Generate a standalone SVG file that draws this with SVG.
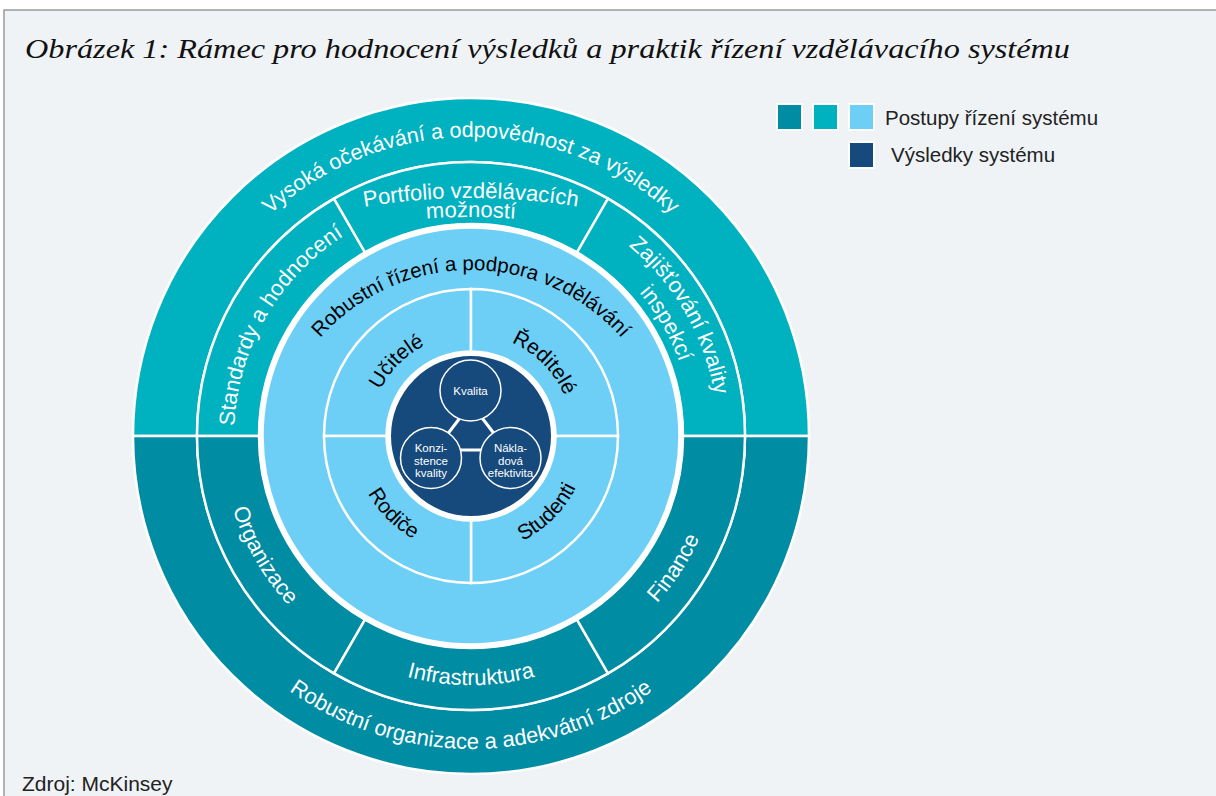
<svg xmlns="http://www.w3.org/2000/svg" width="1216" height="796" viewBox="0 0 1216 796">
<style>
.sans{font-family:'Liberation Sans',Arial,Helvetica,sans-serif}
.w{fill:#ffffff}
.k{fill:#000000}
.t1{fill:#00b1bf}
.t2{fill:#008ca3}
.lb{fill:#6dcff6}
.nv{fill:#174a7c}
.seg{stroke:#ffffff;stroke-width:2.5}
.ring{font-size:22px}
.outer{font-size:21.6px}
.inner{font-size:21px}
.small{font-size:11.5px}
</style>
<defs>
<path id="pOutTop" d="M 172,436 A 299 299 0 0 1 770,436"/>
<path id="pOutBot" d="M 158,436 A 313 313 0 0 0 784,436"/>
<path id="pStd" d="M 265.8,554.5 A 237 237 0 0 1 471,199"/>
<path id="pPort1" d="M 231,243.9 A 650 650 0 0 1 711,243.9"/>
<path id="pPort2" d="M 331,233.6 A 600 600 0 0 1 611,233.6"/>
<path id="pZaj1" d="M 428.1,192.8 A 247 247 0 0 1 660.2,594.8"/>
<path id="pZaj2" d="M 432.6,218.4 A 221 221 0 0 1 640.3,578.1"/>
<path id="pOrg" d="M 280.3,275.9 A 249 249 0 0 0 514.2,681.2"/>
<path id="pInf" d="M 237,521.2 A 249 249 0 0 0 705,521.2"/>
<path id="pFin" d="M 414.8,679.6 A 250 250 0 0 0 670.7,285.5"/>
<path id="pRob" d="M 270,471 A 201 201 0 0 1 672,471"/>
<path id="pUc" d="M 378.6,479.1 A 102 102 0 0 1 514.1,343.6"/>
<path id="pRe" d="M 427.9,343.6 A 102 102 0 0 1 563.4,479.1"/>
<path id="pRo" d="M 364.1,386.1 A 118 118 0 0 0 520.9,542.9"/>
<path id="pSt" d="M 421.6,542 A 117 117 0 0 0 577,386.6"/>
</defs>

<rect x="0" y="0" width="1216" height="796" fill="#ffffff"/>
<rect x="4" y="10" width="1212" height="786" fill="#eff3f6"/>
<path d="M 4,796 L 4,10 L 1216,10" fill="none" stroke="#9a9a9a" stroke-width="1.5"/>

<text x="25" y="58" font-family="'Liberation Serif','Times New Roman',serif" font-style="italic" font-size="28" fill="#111111" textLength="1045" lengthAdjust="spacingAndGlyphs">Obrázek 1: Rámec pro hodnocení výsledků a praktik řízení vzdělávacího systému</text>

<g id="legend">
<rect x="777" y="104" width="25" height="26" fill="#008ca3" stroke="#ffffff" stroke-width="2"/>
<rect x="813" y="104" width="25" height="26" fill="#00b1bf" stroke="#ffffff" stroke-width="2"/>
<rect x="849" y="104" width="25" height="26" fill="#6dcff6" stroke="#ffffff" stroke-width="2"/>
<rect x="849" y="142" width="25" height="26" fill="#174a7c" stroke="#ffffff" stroke-width="2"/>
<text class="sans" x="885" y="125" font-size="20.5" fill="#222222">Postupy řízení systému</text>
<text class="sans" x="891" y="162" font-size="20.5" fill="#222222">Výsledky systému</text>
</g>

<g id="outer-top">
<path class="t1 seg" d="M 133,436 A 338 338 0 0 1 809,436 L 745,436 A 274 274 0 0 0 197,436 Z"/>
<text class="sans w outer"><textPath href="#pOutTop" startOffset="50%" text-anchor="middle">Vysoká očekávání a odpovědnost za výsledky</textPath></text>
</g>
<g id="outer-bottom">
<path class="t2 seg" d="M 133,436 A 338 338 0 0 0 809,436 L 745,436 A 274 274 0 0 1 197,436 Z"/>
<text class="sans w ring"><textPath href="#pOutBot" startOffset="50%" text-anchor="middle">Robustní organizace a adekvátní zdroje</textPath></text>
</g>

<g id="standardy">
<path class="t1 seg" d="M 197,436 A 274 274 0 0 1 334,198.7 L 365,252.4 A 212 212 0 0 0 259,436 Z"/>
<text class="sans w ring"><textPath href="#pStd" startOffset="50%" text-anchor="middle">Standardy a hodnocení</textPath></text>
</g>
<g id="portfolio">
<path class="t1 seg" d="M 334,198.7 A 274 274 0 0 1 608,198.7 L 577,252.4 A 212 212 0 0 0 365,252.4 Z"/>
<text class="sans w ring"><textPath href="#pPort1" startOffset="50%" text-anchor="middle">Portfolio vzdělávacích</textPath></text>
<text class="sans w ring"><textPath href="#pPort2" startOffset="50%" text-anchor="middle">možností</textPath></text>
</g>
<g id="zajistovani">
<path class="t1 seg" d="M 608,198.7 A 274 274 0 0 1 745,436 L 683,436 A 212 212 0 0 0 577,252.4 Z"/>
<text class="sans w ring"><textPath href="#pZaj1" startOffset="50%" text-anchor="middle">Zajišťování kvality</textPath></text>
<text class="sans w ring"><textPath href="#pZaj2" startOffset="50%" text-anchor="middle">inspekcí</textPath></text>
</g>
<g id="organizace">
<path class="t2 seg" d="M 197,436 A 274 274 0 0 0 334,673.3 L 365,619.6 A 212 212 0 0 1 259,436 Z"/>
<text class="sans w ring"><textPath href="#pOrg" startOffset="50%" text-anchor="middle">Organizace</textPath></text>
</g>
<g id="infrastruktura">
<path class="t2 seg" d="M 334,673.3 A 274 274 0 0 0 608,673.3 L 577,619.6 A 212 212 0 0 1 365,619.6 Z"/>
<text class="sans w ring"><textPath href="#pInf" startOffset="50%" text-anchor="middle">Infrastruktura</textPath></text>
</g>
<g id="finance">
<path class="t2 seg" d="M 608,673.3 A 274 274 0 0 0 745,436 L 683,436 A 212 212 0 0 1 577,619.6 Z"/>
<text class="sans w ring"><textPath href="#pFin" startOffset="50%" text-anchor="middle">Finance</textPath></text>
</g>

<g id="robustni-rizeni">
<circle cx="471" cy="436" r="210" class="lb" stroke="#ffffff" stroke-width="5.5"/>
<text class="sans k" font-size="20.5"><textPath href="#pRob" startOffset="50%" text-anchor="middle">Robustní řízení a podpora vzdělávání</textPath></text>
</g>

<g id="ucitele">
<path class="lb seg" d="M 324,436 A 147 147 0 0 1 471,289 L 471,351.5 A 84.5 84.5 0 0 0 386.5,436 Z"/>
<text class="sans k inner"><textPath href="#pUc" startOffset="50%" text-anchor="middle">Učitelé</textPath></text>
</g>
<g id="reditele">
<path class="lb seg" d="M 471,289 A 147 147 0 0 1 618,436 L 555.5,436 A 84.5 84.5 0 0 0 471,351.5 Z"/>
<text class="sans k inner"><textPath href="#pRe" startOffset="50%" text-anchor="middle">Ředitelé</textPath></text>
</g>
<g id="studenti">
<path class="lb seg" d="M 618,436 A 147 147 0 0 1 471,583 L 471,520.5 A 84.5 84.5 0 0 0 555.5,436 Z"/>
<text class="sans k inner"><textPath href="#pSt" startOffset="50%" text-anchor="middle">Studenti</textPath></text>
</g>
<g id="rodice">
<path class="lb seg" d="M 471,583 A 147 147 0 0 1 324,436 L 386.5,436 A 84.5 84.5 0 0 0 471,520.5 Z"/>
<text class="sans k inner"><textPath href="#pRo" startOffset="50%" text-anchor="middle">Rodiče</textPath></text>
</g>

<g id="vysledky">
<circle cx="471" cy="436" r="82.25" class="nv" stroke="#ffffff" stroke-width="4.5"/>
</g>

<g id="connectors" stroke="#ffffff" stroke-width="3" fill="none">
<line x1="440" y1="444" x2="466" y2="410"/>
<line x1="476" y1="410" x2="502" y2="444"/>
<line x1="440" y1="450" x2="501" y2="450"/>
</g>

<g id="kvalita">
<circle cx="470.5" cy="390.5" r="30.5" class="nv" stroke="#ffffff" stroke-width="1.5"/>
<text class="sans w small" x="470.5" y="394.5" text-anchor="middle">Kvalita</text>
</g>
<g id="konzistence">
<circle cx="431" cy="458" r="30.5" class="nv" stroke="#ffffff" stroke-width="1.5"/>
<text class="sans w small" text-anchor="middle"><tspan x="431" y="452">Konzi-</tspan><tspan x="431" y="464.5">stence</tspan><tspan x="431" y="477">kvality</tspan></text>
</g>
<g id="nakladova">
<circle cx="510.5" cy="458" r="30.5" class="nv" stroke="#ffffff" stroke-width="1.5"/>
<text class="sans w small" text-anchor="middle"><tspan x="510.5" y="452">Nákla-</tspan><tspan x="510.5" y="464.5">dová</tspan><tspan x="510.5" y="477">efektivita</tspan></text>
</g>

<text class="sans" x="22" y="791" font-size="21" fill="#222222">Zdroj: McKinsey</text>
</svg>
